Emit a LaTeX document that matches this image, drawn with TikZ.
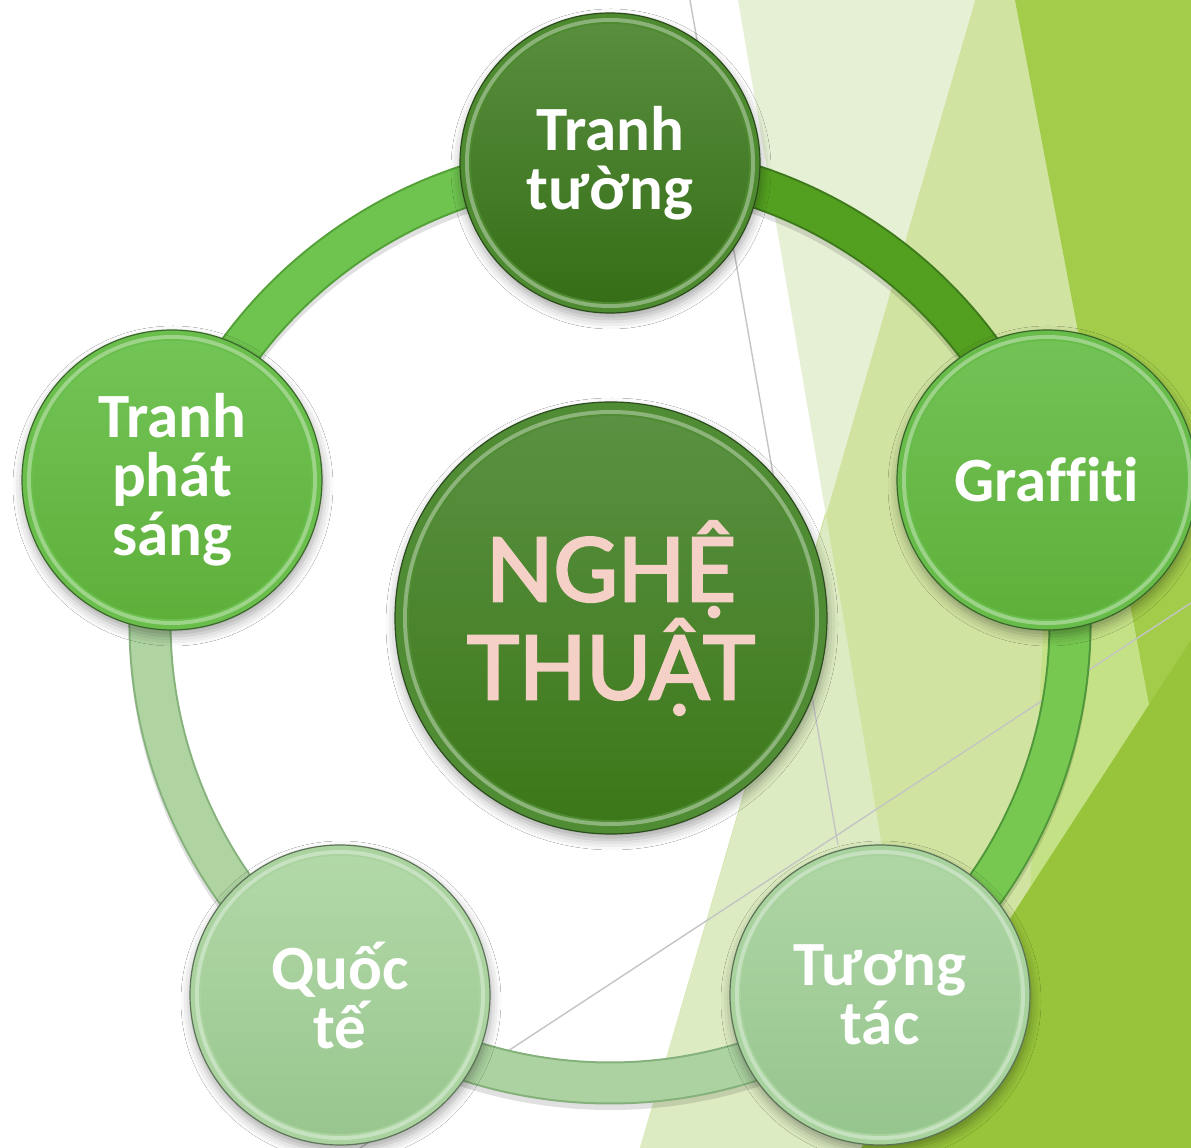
\documentclass[tikz,border=0pt]{standalone}
\usepackage{fontspec}
\setmainfont{Carlito}[Ligatures=CommonOff]
\newfontfamily\centerfont{Lato}[FakeBold=3]
\usetikzlibrary{shadows.blur}
\definecolor{facetMed}{HTML}{D0E3A0}
\definecolor{facetPale}{HTML}{E6F0D5}
\definecolor{facetLight}{HTML}{DCEBC1}
\definecolor{facetDark}{HTML}{A3CC4A}
\definecolor{facetStripe}{HTML}{C5E186}
\definecolor{facetBright}{HTML}{97C43A}
\definecolor{greyline}{HTML}{C4C4C4}
\definecolor{pinktext}{HTML}{F5D0C6}
% bands
\definecolor{bAe}{HTML}{3E7A1C}\definecolor{bAf}{HTML}{53A020}
\definecolor{bBe}{HTML}{50963A}\definecolor{bBf}{HTML}{77C850}
\definecolor{bCe}{HTML}{84B07A}\definecolor{bCf}{HTML}{ABD2A0}
\definecolor{bDe}{HTML}{86B27C}\definecolor{bDf}{HTML}{AFD4A2}
\definecolor{bEe}{HTML}{52A036}\definecolor{bEf}{HTML}{6FC44F}
% nodes: rim, face top, face bottom
\definecolor{tR}{HTML}{4E8A30}\definecolor{tT}{HTML}{588E3E}\definecolor{tB}{HTML}{366E17}
\definecolor{gR}{HTML}{68BC4A}\definecolor{gT}{HTML}{72C256}\definecolor{gB}{HTML}{5EB03A}
\definecolor{uR}{HTML}{A8D29E}\definecolor{uT}{HTML}{AED6A5}\definecolor{uB}{HTML}{97C58E}
\definecolor{qR}{HTML}{AAD3A0}\definecolor{qT}{HTML}{B2D8A8}\definecolor{qB}{HTML}{98C68E}
\definecolor{sR}{HTML}{6ABE4C}\definecolor{sT}{HTML}{72C456}\definecolor{sB}{HTML}{5EAF3A}
\definecolor{cR}{HTML}{508C34}\definecolor{cT}{HTML}{5A9142}\definecolor{cB}{HTML}{3C7819}
\tikzset{
  bandshadow/.style={line width=21pt, black, opacity=0.12},
  bandedge/.style={line width=21.5pt, draw=#1},
  bandfill/.style={line width=19.5pt, draw=#1},
  bubble/.style n args={5}{circle, inner sep=0pt, minimum size=#1,
    fill=#2, draw=#2!55!black, line width=0.6pt,
    blur shadow={shadow xshift=0.5pt, shadow yshift=-3pt, shadow blur radius=5pt, shadow opacity=35},
    path picture={
      \fill[white, opacity=0.35] (path picture bounding box.center) circle[radius=#5+3pt];
      \fill[#2] (path picture bounding box.center) circle[radius=#5+1pt];
      \shade[top color=#3, bottom color=#4] (path picture bounding box.center) circle[radius=#5];
    }},
  smallbub/.style n args={3}{bubble={150pt}{#1}{#2}{#3}{69.5pt}, text=white,
    font=\fontsize{31.5}{29.5}\selectfont\bfseries, align=center},
}
\begin{document}
\begin{tikzpicture}[x=0.5pt,y=0.5pt]
\useasboundingbox (0,0) rectangle (1191,1148);
\clip (0,0) rectangle (1191,1148);
% background facets
\fill[white] (0,0) rectangle (1191,1148);
\fill[facetMed] (975,1148) -- (1191,1148) -- (1191,0) -- (640,0) -- cycle;
\fill[facetPale] (738,1148) -- (975,1148) -- (826,633) -- cycle;
\fill[facetLight] (826,633) -- (640,0) -- (933,0) -- cycle;
\fill[facetDark] (1015,1148) -- (1191,1148) -- (1191,222) -- cycle;
\fill[facetStripe] (1050,648) -- (1110,648) -- (1149,443) -- (1030,258) -- cycle;
\fill[facetBright] (1191,508) -- (1191,0) -- (861,0) -- cycle;
% thin grey lines
\coordinate (g1a) at (690,1148);
\coordinate (g1b) at (838,303);
\coordinate (g2a) at (1191,545);
\coordinate (g2b) at (360,0);
\draw[greyline, line width=0.7pt] (g1a) -- (g1b);
\draw[greyline, line width=0.7pt] (g2a) -- (g2b);
% ring
\coordinate (c) at (610,525);
\foreach \a/\b in {90/18, 18/-54, -54/-126, -126/-198, 162/90}{
  \draw[bandshadow] (c) ++(\a:460) ++(0,-6) arc[start angle=\a, end angle=\b, radius=230pt];
}
\foreach \a/\b/\e/\f in {90/18/bAe/bAf, 18/-54/bBe/bBf, -54/-126/bCe/bCf, -126/-198/bDe/bDf, 162/90/bEe/bEf}{
  \draw[bandedge=\e] (c) ++(\a:460) arc[start angle=\a, end angle=\b, radius=230pt];
  \draw[bandfill=\f] (c) ++(\a:460) arc[start angle=\a, end angle=\b, radius=230pt];
}
% outer nodes
\node[smallbub={tR}{tT}{tB}] (top) at (610,985) {Tranh\\tường};
\node[smallbub={gR}{gT}{gB}] (graf) at (1047,668) {Graffiti};
\node[smallbub={uR}{uT}{uB}] (tuong) at (880,153) {Tương\\tác};
\node[smallbub={qR}{qT}{qB}] (quoc) at (340,153) {Quốc\\tế};
\node[smallbub={sR}{sT}{sB}] (sang) at (172,668) {Tranh\\phát\\sáng};
% centre node
\node[bubble={216pt}{cR}{cT}{cB}{101pt}, text=pinktext,
  font=\centerfont\fontsize{44}{47.5}\selectfont, align=center]
  (center) at (611,530) {NGHỆ\\THUẬT};
\end{tikzpicture}
\end{document}
